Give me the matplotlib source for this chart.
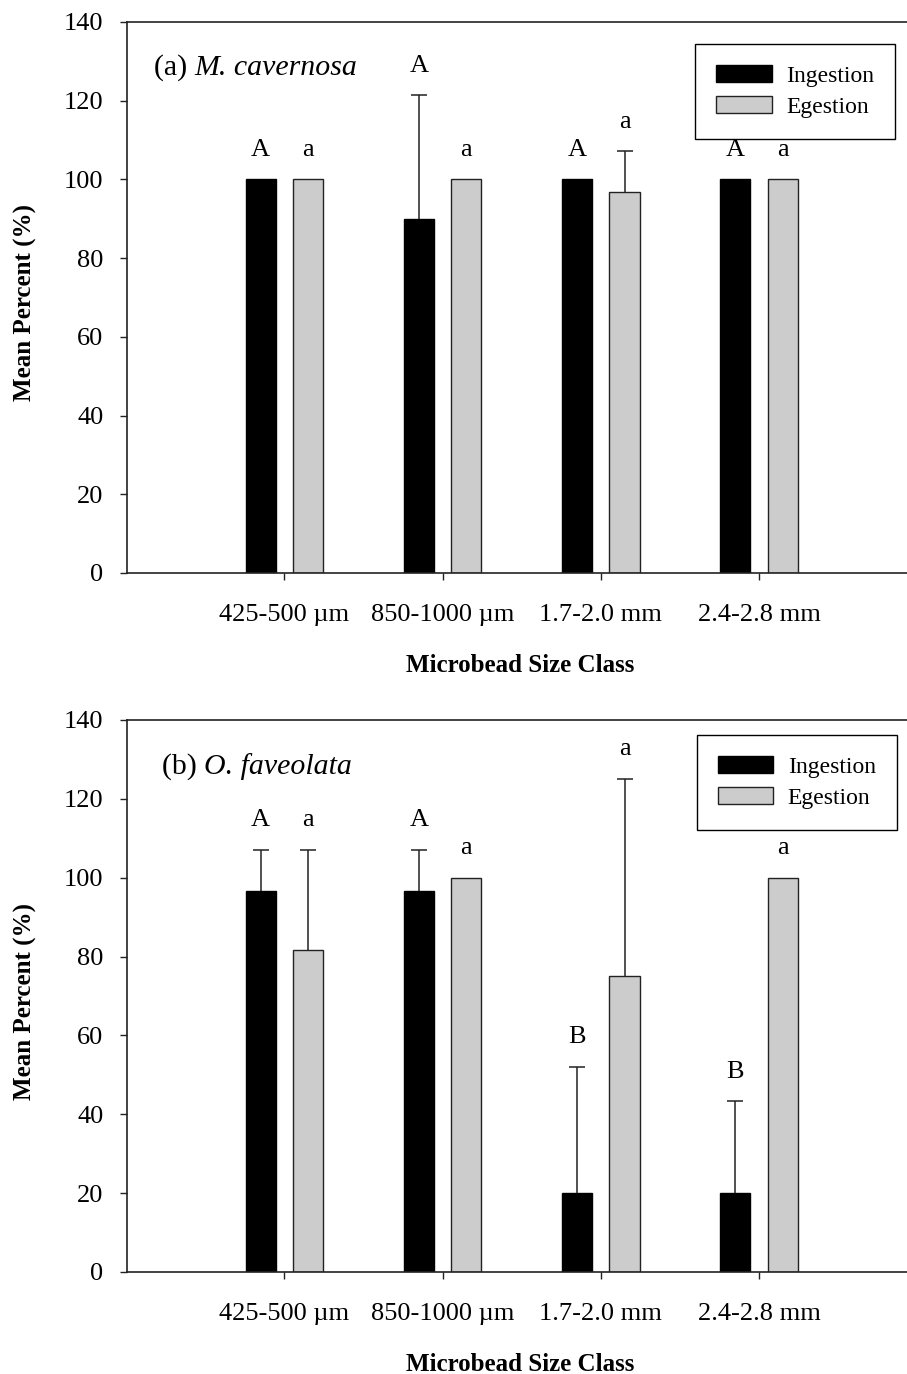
import matplotlib
matplotlib.use("Agg")
import matplotlib.pyplot as plt
import numpy as np

plt.rcParams['font.family'] = ['Liberation Serif', 'DejaVu Serif']

# size classes on the x axis
size_classes = ['425-500 \u00b5m', '850-1000 \u00b5m', '1.7-2.0 mm', '2.4-2.8 mm']

# (a) M. cavernosa
a_ingestion = [100, 90, 100, 100]
a_ingestion_err = [0, 31.4, 0, 0]
a_egestion = [100, 100, 96.7, 100]
a_egestion_err = [0, 0, 10.4, 0]
a_ingestion_letters = ['A', 'A', 'A', 'A']
a_egestion_letters = ['a', 'a', 'a', 'a']

# (b) O. faveolata
b_ingestion = [96.7, 96.7, 20, 20]
b_ingestion_err = [10.4, 10.4, 32, 23.3]
b_egestion = [81.7, 100, 75, 100]
b_egestion_err = [25.4, 0, 50, 0]
b_ingestion_letters = ['A', 'A', 'B', 'B']
b_egestion_letters = ['a', 'a', 'a', 'a']

font_ticks = 19
font_letters = 19
font_title = 21.5


def draw_panel(ax, tag, species, ing, ing_err, egs, egs_err, ing_let, egs_let, legend_anchor, title_pos):
    x = np.arange(1, len(size_classes) + 1)
    off = 0.15
    w = 0.19

    ax.bar(x - off, ing, width=w, color='black', edgecolor='black', linewidth=1, label='Ingestion', zorder=2)
    ax.bar(x + off, egs, width=w, color='#cccccc', edgecolor='#222222', linewidth=1, label='Egestion', zorder=2)

    # upper error bars only, drop the cap sitting on the bar top
    for xs, vals, errs in [(x - off, ing, ing_err), (x + off, egs, egs_err)]:
        for xi, v, e in zip(xs, vals, errs):
            if e > 0:
                _, caps, _ = ax.errorbar(xi, v, yerr=[[0], [e]], fmt='none', ecolor='#222222',
                                         elinewidth=1.1, capsize=5.5, capthick=1.1, zorder=3)
                for c in caps:
                    if np.allclose(c.get_ydata(), v):
                        c.remove()

    for xs, vals, errs, lets in [(x - off, ing, ing_err, ing_let), (x + off, egs, egs_err, egs_let)]:
        for xi, v, e, l in zip(xs, vals, errs, lets):
            ax.text(xi, v + e + 6, l, ha='center', va='baseline', fontsize=font_letters)

    ax.set_xlim(0.006, 4.935)
    ax.set_ylim(0, 140)
    ax.set_yticks(np.arange(0, 141, 20))
    ax.set_xticks(x)
    ax.set_xticklabels(size_classes)

    ax.spines['right'].set_visible(False)
    for s in ['left', 'top', 'bottom']:
        ax.spines[s].set_linewidth(1.2)
        ax.spines[s].set_color('#222222')

    ax.tick_params(axis='both', direction='out', length=5, width=1, labelsize=font_ticks, color='#222222')
    ax.tick_params(axis='y', pad=12)
    ax.tick_params(axis='x', pad=17)

    ax.set_ylabel('Mean Percent (%)', fontsize=18, fontweight='bold')
    ax.yaxis.set_label_coords(-0.115, 0.49)
    ax.set_xlabel('Microbead Size Class', fontsize=18, fontweight='bold')
    ax.xaxis.set_label_coords(0.504, -0.147)

    t1 = ax.text(title_pos[0], title_pos[1], tag + ' ', transform=ax.transAxes,
                 ha='left', va='center', fontsize=font_title)
    ax.annotate(species, xy=(1, 0), xycoords=t1, ha='left', va='bottom',
                fontsize=font_title, style='italic')

    leg = ax.legend(loc='upper right', bbox_to_anchor=legend_anchor, fontsize=17,
                    frameon=True, fancybox=False, borderaxespad=0, borderpad=0.9,
                    handlelength=2.35, handleheight=0.72, handletextpad=0.6,
                    labelspacing=0.4)
    leg.get_frame().set_edgecolor('black')
    leg.get_frame().set_linewidth(1)
    leg.get_frame().set_alpha(1)


def main():
    fig = plt.figure(figsize=(9.07, 13.74), dpi=100)
    ax1 = fig.add_axes([0.140, 0.5830, 0.860, 0.4010])
    ax2 = fig.add_axes([0.140, 0.07424, 0.860, 0.4018])

    draw_panel(ax1, '(a)', 'M. cavernosa', a_ingestion, a_ingestion_err,
               a_egestion, a_egestion_err, a_ingestion_letters, a_egestion_letters,
               (0.985, 0.960), (0.034, 0.918))
    draw_panel(ax2, '(b)', 'O. faveolata', b_ingestion, b_ingestion_err,
               b_egestion, b_egestion_err, b_ingestion_letters, b_egestion_letters,
               (0.987, 0.973), (0.045, 0.915))

    fig.savefig('out.png', dpi=100)
    plt.close(fig)


if __name__ == "__main__":
    main()
